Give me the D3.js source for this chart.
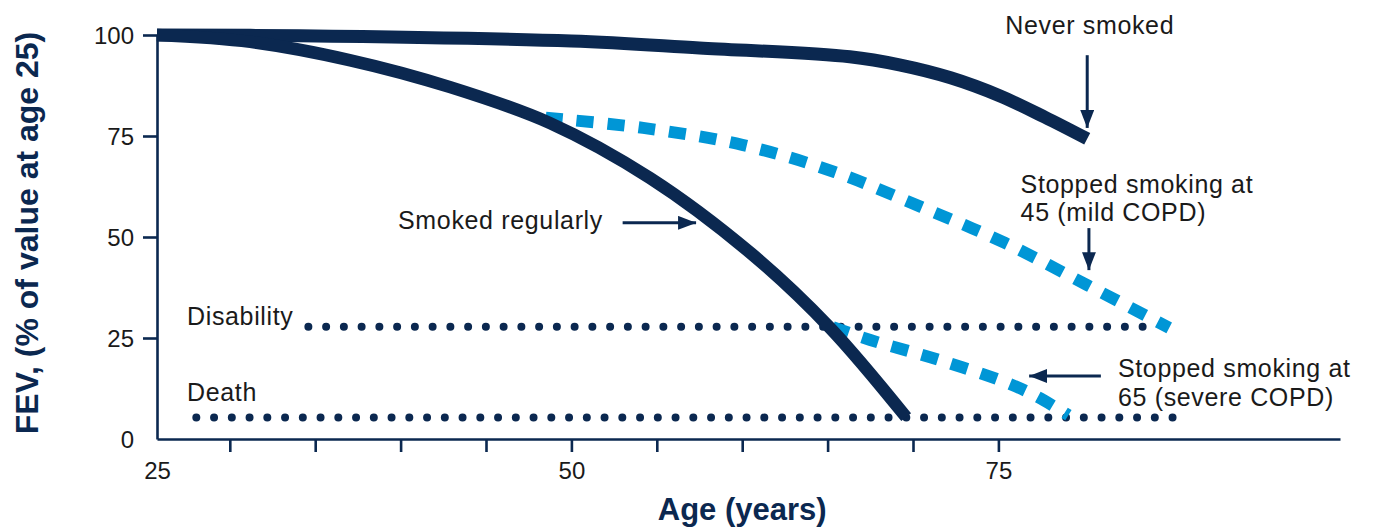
<!DOCTYPE html>
<html>
<head>
<meta charset="utf-8">
<script src="https://cdn.jsdelivr.net/npm/d3@7"></script>
<style>
  html, body { margin: 0; padding: 0; background: #fff; }
  svg { display: block; }
  text { font-family: "Liberation Sans", Arial, Helvetica, sans-serif; }
</style>
</head>
<body>
<svg id="chart" width="1373" height="527"></svg>
<script>
// ---- Data (age in years, FEV as % of value at age 25) ----
const neverAges   = [25, 34.1, 50.0, 57.5, 66.3, 69.2, 72.2, 75.1, 77.7, 80.2];
const neverVals   = [100, 99.8, 98.5, 96.8, 94.6, 92.6, 89.4, 84.9, 79.7, 74.3];

const smokedAges  = [25, 31.2, 37.0, 42.9, 48.75, 54.6, 60.5, 65.1, 69.6];
const smokedVals  = [100, 98.3, 93.8, 87.1, 78.2, 64.6, 46.0, 27.7, 5.4];

const stop45Ages  = [48.5, 54.2, 60.0, 65.4, 70.5, 75.4, 80.2, 85.0];
const stop45Vals  = [79.5, 77.0, 72.8, 66.1, 57.4, 48.5, 38.1, 27.5];

const stop65Ages  = [65.3, 67.5, 71.5, 75.5, 77.3, 79.1];
const stop65Vals  = [27.7, 24.5, 19.6, 13.9, 10.4, 5.9];

const disabilityLevel = 27.8, disabilityFrom = 34.6, disabilityTo = 83.7;
const deathLevel = 5.3, deathFrom = 27.7, deathTo = 85.2;

const xTickValues = [25, 30, 35, 40, 45, 50, 55, 60, 65, 70, 75];
const xTickLabels = [25, 50, 75];
const yTickValues = [0, 25, 50, 75, 100];

const xTitle = "Age (years)";
const yTitle = "FEV, (% of value at age 25)";

// ---- Scales ----
const NAVY = "#0b2850", BLUE = "#0096d6", TEXT = "#1a1a1a";
const svg = d3.select("#chart");
const x = d3.scaleLinear().domain([25, 30, 95]).range([157, 229.8, 1340]);
const y = d3.scaleLinear().domain([0, 100]).range([439, 35]);

// ---- Axes ----
const yAxis = svg.append("g").attr("transform", `translate(${x(25)},0)`)
  .call(d3.axisLeft(y).tickValues(yTickValues).tickSize(14).tickSizeOuter(0).tickPadding(9));
yAxis.select(".domain").attr("stroke", NAVY).attr("stroke-width", 2.6);
yAxis.selectAll(".tick line").attr("stroke", NAVY).attr("stroke-width", 2.6)
  .attr("display", d => d === 0 ? "none" : null);
yAxis.selectAll(".tick text").attr("font-size", 24).attr("fill", TEXT)
  .attr("font-family", "Liberation Sans, Arial, sans-serif").attr("dy", "0.34em");

const xAxis = svg.append("g").attr("transform", `translate(0,${y(0)})`)
  .call(d3.axisBottom(x).tickValues(xTickValues).tickSize(13).tickSizeOuter(0).tickPadding(10)
    .tickFormat(d => xTickLabels.includes(d) ? d : ""));
xAxis.select(".domain").attr("stroke", NAVY).attr("stroke-width", 2.6);
xAxis.selectAll(".tick line").attr("stroke", NAVY).attr("stroke-width", 2.6)
  .attr("display", d => d === 25 ? "none" : null);
xAxis.selectAll(".tick text").attr("font-size", 24).attr("fill", TEXT)
  .attr("font-family", "Liberation Sans, Arial, sans-serif");

// ---- Axis titles ----
svg.append("text").attr("x", x(60)).attr("y", 520).attr("text-anchor", "middle")
  .attr("font-size", 31).attr("font-weight", "bold").attr("fill", NAVY).text(xTitle);
svg.append("text").attr("transform", `translate(38,${y(50) - 4}) rotate(-90)`)
  .attr("text-anchor", "middle").attr("font-size", 32).attr("font-weight", "bold")
  .attr("fill", NAVY).text(yTitle);

// ---- Reference dotted lines ----
function dotted(level, from, to) {
  svg.append("line").attr("x1", x(from)).attr("x2", x(to))
    .attr("y1", y(level)).attr("y2", y(level))
    .attr("stroke", NAVY).attr("stroke-width", 8).attr("stroke-linecap", "round")
    .attr("stroke-dasharray", "0,17.75");
}
dotted(disabilityLevel, disabilityFrom, disabilityTo);
dotted(deathLevel, deathFrom, deathTo);

// ---- Curves ----
const line = d3.line().x(d => x(d[0])).y(d => y(d[1])).curve(d3.curveCatmullRom.alpha(0.5));
function series(ages, vals, color, width, dash) {
  const p = svg.append("path").datum(ages.map((a, i) => [a, vals[i]]))
    .attr("d", line).attr("fill", "none").attr("stroke", color)
    .attr("stroke-width", width).attr("stroke-linecap", "butt").attr("stroke-linejoin", "round");
  if (dash) p.attr("stroke-dasharray", dash);
}
series(stop45Ages, stop45Vals, BLUE, 12, "17,14");
series(stop65Ages, stop65Vals, BLUE, 12, "17,14");
series(neverAges, neverVals, NAVY, 13);
series(smokedAges, smokedVals, NAVY, 12.5);

// ---- Annotations ----
svg.append("defs").append("marker").attr("id", "ah")
  .attr("viewBox", "0 0 18 14").attr("refX", 18).attr("refY", 7)
  .attr("markerWidth", 18).attr("markerHeight", 14).attr("markerUnits", "userSpaceOnUse")
  .attr("orient", "auto")
  .append("path").attr("d", "M0,0 L18,7 L0,14 Z").attr("fill", NAVY);

const arrows = [
  { a1: 80.2, v1: 95.0, a2: 80.2, v2: 77.0 },
  { a1: 80.3, v1: 52.2, a2: 80.3, v2: 41.8 },
  { a1: 53.0, v1: 53.5, a2: 57.3, v2: 53.5 },
  { a1: 81.0, v1: 15.6, a2: 76.8, v2: 15.6 }
];
arrows.forEach(d => {
  svg.append("line").attr("x1", x(d.a1)).attr("y1", y(d.v1))
    .attr("x2", x(d.a2)).attr("y2", y(d.v2))
    .attr("stroke", NAVY).attr("stroke-width", 3).attr("marker-end", "url(#ah)");
});

const labels = [
  { a: 75.4, v: 100.2, t: ["Never smoked"] },
  { a: 76.3, v: 60.9, t: ["Stopped smoking at", "45 (mild COPD)"] },
  { a: 82.0, v: 15.3, t: ["Stopped smoking at", "65 (severe COPD)"] },
  { a: 39.85, v: 52.0, t: ["Smoked regularly"] },
  { a: 27.06, v: 28.2, t: ["Disability"] },
  { a: 27.06, v: 9.4, t: ["Death"] }
];
labels.forEach(d => {
  const t = svg.append("text").attr("x", x(d.a)).attr("y", y(d.v))
    .attr("font-size", 25).attr("letter-spacing", 0.65).attr("fill", TEXT);
  d.t.forEach((s, i) => t.append("tspan").attr("x", x(d.a)).attr("dy", i ? 28.5 : 0).text(s));
});
</script>
</body>
</html>
